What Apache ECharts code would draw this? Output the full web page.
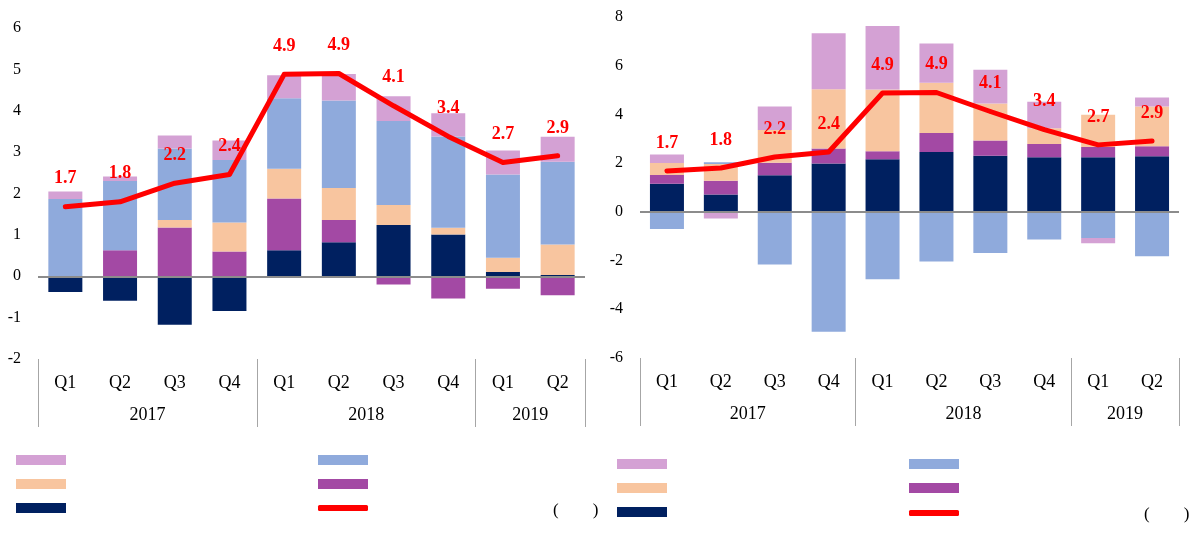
<!DOCTYPE html>
<html><head><meta charset="utf-8">
<script src="https://cdn.jsdelivr.net/npm/echarts@6/dist/echarts.min.js"></script>
<style>html,body{margin:0;padding:0;background:#fff}#c{width:1192px;height:540px}</style>
</head><body><div id="c"></div>
<script>
const quarters = ['Q1','Q2','Q3','Q4','Q1','Q2','Q3','Q4','Q1','Q2'];
const years = ['2017','2018','2019'];
const quartersPerYear = [4,4,2];

const growth = [1.68,1.80,2.25,2.46,4.88,4.90,4.12,3.38,2.75,2.91];
const growthLabels = ['1.7','1.8','2.2','2.4','4.9','4.9','4.1','3.4','2.7','2.9'];

// left panel
const navyL   = [-0.38,-0.59,-1.17,-0.84,0.63,0.82,1.24,1.01,0.10,0.03];
const purpleL = [0,0.63,1.18,0.60,1.25,0.54,-0.20,-0.54,-0.30,-0.46];
const peachL  = [0,0,0.18,0.70,0.72,0.77,0.48,0.16,0.35,0.74];
const blueL   = [1.87,1.67,1.73,1.51,1.70,2.12,2.03,2.21,2.01,2.00];
const lavL    = [0.18,0.11,0.31,0.47,0.56,0.64,0.60,0.56,0.58,0.60];

// right panel
const navyR   = [1.15,0.71,1.50,1.99,2.16,2.46,2.30,2.24,2.24,2.28];
const purpleR = [0.36,0.57,0.52,0.61,0.33,0.78,0.63,0.55,0.42,0.41];
const peachR  = [0.50,0.68,1.34,2.43,2.53,2.06,1.52,0.64,1.33,1.64];
const blueR   = [-0.70,0.08,-2.16,-4.92,-2.77,-2.04,-1.69,-1.13,-1.07,-1.82];
const lavR    = [0.34,-0.27,0.97,2.30,2.61,1.61,1.38,1.09,-0.22,0.37];

const C = {navy:'#002060', purple:'#A349A4', peach:'#F8C59F', blue:'#8FAADC', lav:'#D4A1D4', red:'#FF0000'};
const FONT = '"Liberation Serif","Times New Roman",serif';

// year boundaries and centres (in category units)
const bounds = [0]; quartersPerYear.forEach(n => bounds.push(bounds[bounds.length-1] + n));
const centres = quartersPerYear.map((n,i) => bounds[i] + n/2);

function xAxes(g){
  return [
    {type:'category', gridIndex:g, data:quarters, boundaryGap:true,
     axisLine:{show:false}, axisTick:{show:false},
     axisLabel:{color:'#000', fontSize:18, fontFamily:FONT, margin:15}},
    {type:'value', gridIndex:g, min:0, max:10, position:'bottom',
     axisLine:{show:false}, splitLine:{show:false},
     axisTick:{show:true, inside:false, length:68, customValues:bounds, lineStyle:{color:'#a6a6a6', width:1}},
     axisLabel:{show:true, customValues:centres, margin:47, color:'#000', fontSize:18, fontFamily:FONT,
       formatter: v => { const i = centres.indexOf(v); return i >= 0 ? years[i] : ''; }}}
  ];
}
function yAxis(g, min, max, interval){
  return {type:'value', gridIndex:g, min, max, interval,
    axisLine:{show:false}, axisTick:{show:false}, splitLine:{show:false},
    axisLabel:{color:'#000', fontSize:16, fontFamily:FONT, margin:17}};
}
function bars(g, name, color, data, withZero){
  const s = {name, type:'bar', xAxisIndex:g*2, yAxisIndex:g, stack:'s'+g, barWidth:34,
    itemStyle:{color}, data};
  if (withZero) s.markLine = {silent:true, symbol:'none', label:{show:false},
    lineStyle:{color:'#8c8c8c', width:2, type:'solid'}, data:[{yAxis:0}]};
  return s;
}
function line(g){
  return {name:'line', type:'line', xAxisIndex:g*2, yAxisIndex:g, data:growth, z:5,
    symbol:'circle', symbolSize:4, showSymbol:true, itemStyle:{color:C.red},
    lineStyle:{color:C.red, width:5, cap:'round', join:'round'},
    label:{show:true, position:'top', distance:17, color:C.red, fontWeight:'bold', fontSize:18, fontFamily:FONT,
      formatter: p => growthLabels[p.dataIndex]}};
}
function legend(left, top, names, h){
  return {orient:'vertical', left, top, padding:0, itemWidth:50, itemHeight:h || 10, itemGap:14,
    icon: h ? 'roundRect' : 'rect',
    data:names, formatter:()=>'', selectedMode:false, textStyle:{fontSize:1}};
}

const chart = echarts.init(document.getElementById('c'));
chart.setOption({
  animation:false,
  grid:[
    {left:38, top:28, width:547, height:331},
    {left:640, top:17, width:539, height:341}
  ],
  xAxis:[...xAxes(0), ...xAxes(1)],
  yAxis:[yAxis(0,-2,6,1), yAxis(1,-6,8,2)],
  legend:[
    legend(16, 455, ['lav','peach','navy']),
    legend(318, 455, ['blue','purple']),
    legend(318, 505, ['line'], 6),
    legend(617, 459, ['lav','peach','navy']),
    legend(909, 459, ['blue','purple']),
    legend(909, 510, ['line'], 6)
  ],
  graphic:[
    {type:'text', left:553, top:502, style:{text:'(        )', font:'17px '+FONT, fill:'#000'}},
    {type:'text', left:1144, top:506, style:{text:'(        )', font:'17px '+FONT, fill:'#000'}}
  ],
  series:[
    bars(0,'navy',C.navy,navyL,true), bars(0,'purple',C.purple,purpleL), bars(0,'peach',C.peach,peachL),
    bars(0,'blue',C.blue,blueL), bars(0,'lav',C.lav,lavL), line(0),
    bars(1,'navy',C.navy,navyR,true), bars(1,'purple',C.purple,purpleR), bars(1,'peach',C.peach,peachR),
    bars(1,'blue',C.blue,blueR), bars(1,'lav',C.lav,lavR), line(1)
  ]
});
</script></body></html>
